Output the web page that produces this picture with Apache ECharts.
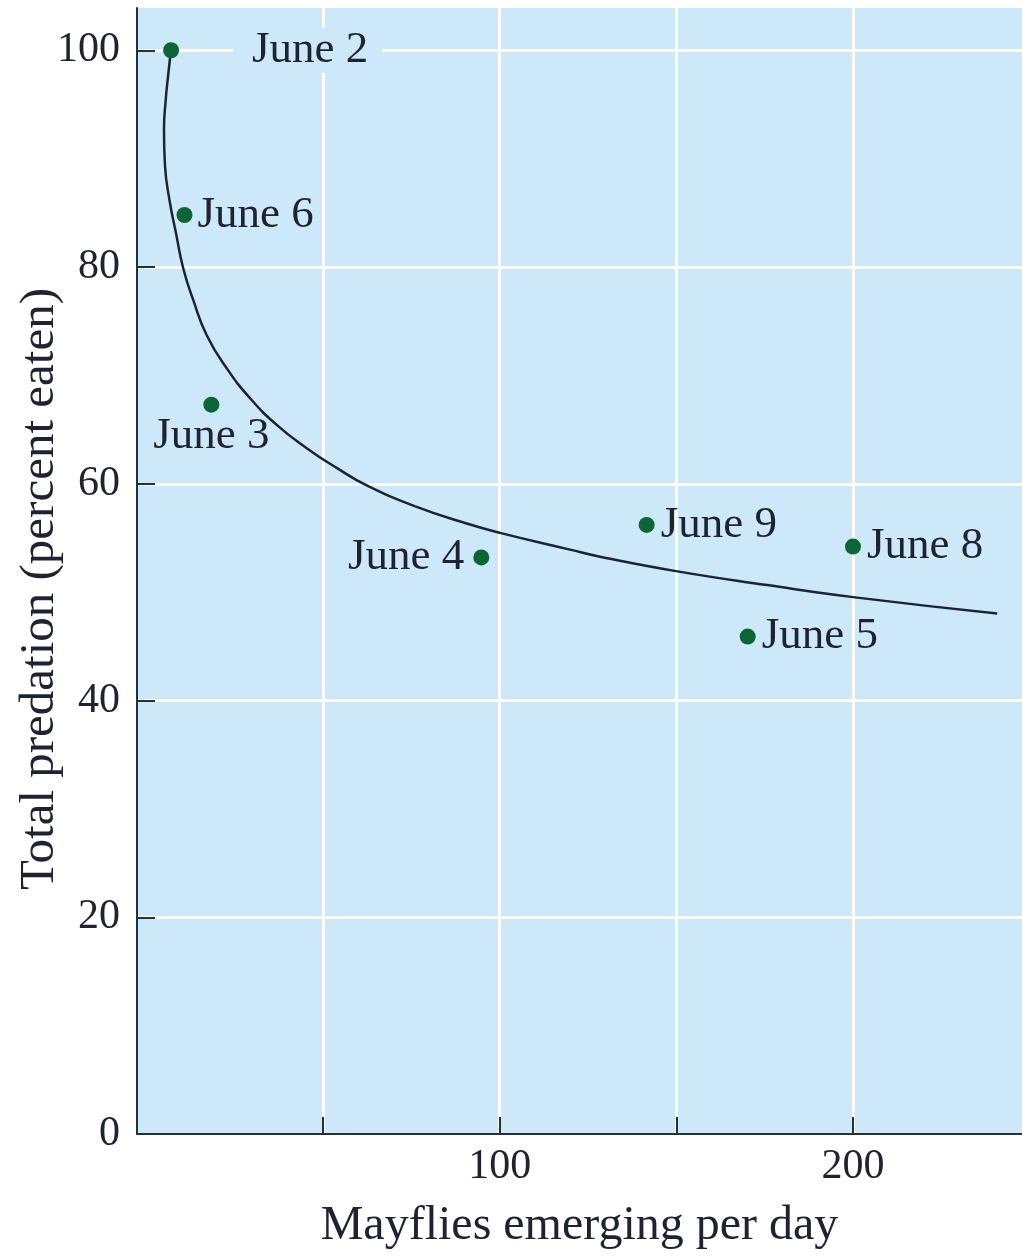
<!DOCTYPE html>
<html><head><meta charset="utf-8">
<script src="https://cdn.jsdelivr.net/npm/echarts@6/dist/echarts.min.js"></script>
<style>html,body{margin:0;padding:0;background:#fff}#c{width:1022px;height:1257px}</style>
</head><body><div id="c"></div>
<script>
// ---- data ----
const dates = ['June 2', 'June 6', 'June 3', 'June 4', 'June 9', 'June 8', 'June 5'];
const mayflies = [7.0, 10.8, 18.4, 94.8, 141.6, 200.0, 170.2];
const predation = [100.0, 84.8, 67.3, 53.2, 56.2, 54.2, 45.9];

const curveX = [6.98, 6.27, 5.48, 5.00, 5.28, 6.56, 8.40, 10.46, 13.29, 17.09, 22.75, 29.34, 36.90, 45.39, 53.88, 62.37, 76.52, 90.67, 100.09, 119.91, 128.39, 149.90, 175.66, 200.0, 240.8];
const curveY = [100.0, 97.97, 95.39, 92.62, 89.39, 86.16, 83.12, 79.86, 76.94, 73.71, 70.66, 67.90, 65.43, 63.28, 61.46, 59.85, 57.86, 56.33, 55.47, 53.92, 53.27, 51.94, 50.65, 49.54, 48.03];

const xTickValues = [50, 100, 150, 200];
const xLabelValues = [100, 200];
const yTickValues = [0, 20, 40, 60, 80, 100];

// ---- styling ----
const FONT = '"Liberation Serif", "DejaVu Serif", serif';
const BG = '#cce8f9';
const TXT = '#1f2230';
const AX = '#24323d';
const labelLayout = {
  'June 2': { position: 'right', distance: 54, backgroundColor: BG, padding: [0, 14, 0, 19] },
  'June 6': { position: 'right', distance: 5 },
  'June 3': { position: 'bottom', distance: 1 },
  'June 4': { position: 'left', distance: 9 },
  'June 9': { position: 'right', distance: 6 },
  'June 8': { position: 'right', distance: 6 },
  'June 5': { position: 'right', distance: 6 }
};

const pointData = dates.map((d, i) => ({
  name: d,
  value: [mayflies[i], predation[i]],
  label: Object.assign({ show: true }, labelLayout[d])
}));
const curveData = curveX.map((x, i) => [x, curveY[i]]);

const chart = echarts.init(document.getElementById('c'), null, { renderer: 'canvas' });
chart.setOption({
  backgroundColor: '#ffffff',
  animation: false,
  grid: { left: 137, right: 0, top: 8, bottom: 123, containLabel: false, outerBoundsMode: 'none',
          show: true, backgroundColor: BG, borderWidth: 0 },
  xAxis: {
    type: 'value', min: -2.64, max: 247.83,
    name: 'Mayflies emerging per day', nameLocation: 'middle', nameGap: 68, nameMoveOverlap: false,
    nameTextStyle: { fontFamily: FONT, fontSize: 48, color: TXT },
    axisLine: { onZero: false, lineStyle: { color: AX, width: 2 } },
    axisTick: { inside: true, length: 17, customValues: xTickValues, lineStyle: { color: AX, width: 2 } },
    axisLabel: { customValues: xLabelValues, margin: 12, fontFamily: FONT, fontSize: 42, color: TXT },
    splitLine: { show: true, lineStyle: { color: '#ffffff', width: 3 } }
  },
  yAxis: {
    type: 'value', min: 0, max: 103.9,
    name: 'Total predation (percent eaten)', nameLocation: 'middle', nameGap: 72, nameRotate: 90, nameMoveOverlap: false,
    nameTextStyle: { fontFamily: FONT, fontSize: 49, color: TXT, padding: [0, 36, 0, 0] },
    axisLine: { show: true, onZero: false, lineStyle: { color: AX, width: 2 } },
    axisTick: { show: true, inside: true, length: 18, customValues: yTickValues, lineStyle: { color: AX, width: 2 } },
    axisLabel: { customValues: yTickValues, margin: 17, fontFamily: FONT, fontSize: 42, color: TXT },
    splitLine: { show: true, lineStyle: { color: '#ffffff', width: 3 } }
  },
  series: [
    {
      type: 'line', data: curveData, smooth: 0.5, showSymbol: false, symbol: 'none',
      lineStyle: { color: '#1a2432', width: 2.5 }, z: 3
    },
    {
      type: 'scatter', data: pointData, symbolSize: 16,
      itemStyle: { color: '#0b6535', opacity: 1 },
      label: { formatter: '{b}', fontFamily: FONT, fontSize: 45, color: TXT, opacity: 1 },
      emphasis: { disabled: true },
      z: 4
    }
  ]
});
</script>
</body></html>
